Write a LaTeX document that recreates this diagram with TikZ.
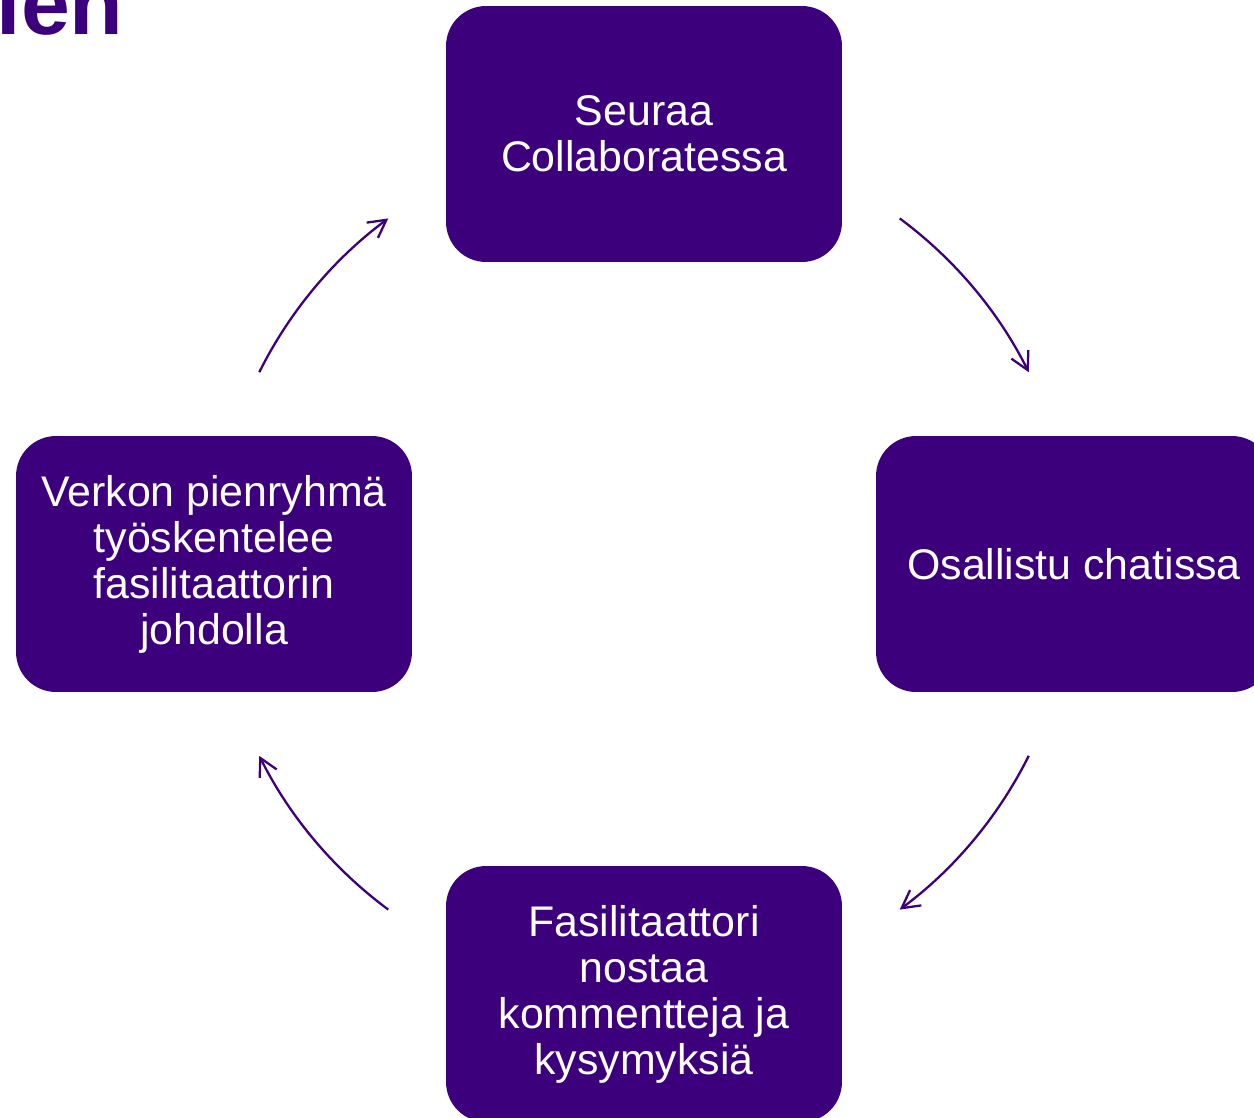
\documentclass[tikz,border=0pt]{standalone}
\usepackage{fontspec}
\setmainfont{Liberation Sans}
\usetikzlibrary{arrows.meta}
\definecolor{violetti}{RGB}{61,0,125}

\begin{document}
\begin{tikzpicture}[x=0.02cm, y=-0.02cm,
        vaihe/.style={fill=violetti, text=white, rounded corners=0.8cm, minimum width=7.92cm, minimum height=5.12cm, align=center, font=\fontsize{24.4}{26.2}\selectfont},
        kierto/.style={color=violetti, line width=1.3pt, -{Straight Barb[length=3.5mm, width=3.8mm]}}]
            \useasboundingbox (0,0) rectangle (1254,1117);
            \clip (0,0) rectangle (1254,1117);
            \node[anchor=base east, inner sep=0pt, text=violetti, font=\fontsize{50}{50}\selectfont\bfseries] (otsikko) at (124,34) {ien};
            \node[vaihe] (seuraa) at (644,134) {Seuraa\\Collaboratessa};
            \node[vaihe] (osallistu) at (1074,564) {Osallistu chatissa};
            \node[vaihe] (nostaa) at (644,994) {Fasilitaattori\\nostaa\\kommentteja ja\\kysymyksiä};
            \node[vaihe] (ryhma) at (214,564) {Verkon pienryhmä\\työskentelee\\fasilitaattorin\\johdolla};
            \coordinate (keski) at (644,564);
            \foreach \a/\n in {53.5/1, -26.5/2, -126.5/3, 153.5/4}
                \draw[kierto] ([shift={(\a:8.6cm)}]keski) coordinate (alku\n) arc[start angle=\a, delta angle=-27, radius=8.6cm];
        \end{tikzpicture}
\end{document}
